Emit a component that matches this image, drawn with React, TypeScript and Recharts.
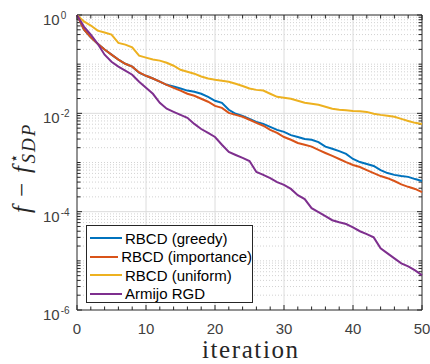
import { LineChart, Line, XAxis, YAxis, ReferenceLine, Legend } from 'recharts';

// iteration index 0..50
const iterations = Array.from({ length: 51 }, (_, i) => i);

const rbcdGreedy = [
  1, 0.51, 0.35, 0.26, 0.198, 0.156, 0.124, 0.102, 0.089, 0.067,
  0.058, 0.051, 0.044, 0.038, 0.035, 0.032, 0.029, 0.0275, 0.025, 0.0217,
  0.018, 0.0164, 0.0118, 0.0098, 0.0089, 0.0077, 0.0067, 0.0061, 0.0053, 0.0046,
  0.0042, 0.0036, 0.0033, 0.003, 0.0029, 0.0026, 0.0021, 0.0019, 0.0017, 0.0015,
  0.00118, 0.00102, 0.00093, 0.00085, 0.0007, 0.00061, 0.00056, 0.00053, 0.00051, 0.00046,
  0.00042,
];

const rbcdImportance = [
  1, 0.51, 0.35, 0.26, 0.198, 0.156, 0.124, 0.102, 0.089, 0.068,
  0.058, 0.051, 0.044, 0.038, 0.033, 0.029, 0.025, 0.0228, 0.0198, 0.0172,
  0.0142, 0.0129, 0.0102, 0.0093, 0.0085, 0.0074, 0.0064, 0.0056, 0.0046, 0.004,
  0.0033, 0.0029, 0.0025, 0.0023, 0.0021, 0.0018, 0.00156, 0.00136, 0.00118, 0.00102,
  0.00089, 0.00081, 0.0007, 0.00061, 0.00053, 0.00048, 0.00042, 0.00036, 0.00032, 0.00029,
  0.00025,
];

const rbcdUniform = [
  1, 0.74, 0.61, 0.48, 0.44, 0.4, 0.27, 0.25, 0.22, 0.149,
  0.136, 0.124, 0.118, 0.107, 0.093, 0.077, 0.07, 0.064, 0.056, 0.051,
  0.048, 0.046, 0.044, 0.04, 0.036, 0.032, 0.03, 0.029, 0.025, 0.0217,
  0.0207, 0.0198, 0.018, 0.0164, 0.0156, 0.0149, 0.0136, 0.0124, 0.0118, 0.0115,
  0.0112, 0.011, 0.0107, 0.0098, 0.0093, 0.0089, 0.0085, 0.0077, 0.007, 0.0064,
  0.0061,
];

const armijoRgd = [
  1, 0.58, 0.4, 0.26, 0.156, 0.112, 0.089, 0.074, 0.061, 0.044,
  0.033, 0.025, 0.0164, 0.0124, 0.0107, 0.0093, 0.0081, 0.0061, 0.0048, 0.004,
  0.0033, 0.0023, 0.00164, 0.00142, 0.00124, 0.00107, 0.00064, 0.00056, 0.00048, 0.0004,
  0.00035, 0.00029, 0.000217, 0.00018, 0.000118, 0.000098, 0.000081, 0.000067, 0.000061, 0.000056,
  0.000048, 0.00004, 0.000035, 0.00003, 0.000018, 0.0000142, 0.0000112, 0.0000089, 0.0000077, 0.0000064,
  0.0000051,
];

const seriesNames = ['RBCD (greedy)', 'RBCD (importance)', 'RBCD (uniform)', 'Armijo RGD'];
const seriesKeys = ['greedy', 'importance', 'uniform', 'armijo'];
const seriesColors = ['#0072BD', '#D95319', '#EDB120', '#7E2F8E'];

const xTicks = [0, 10, 20, 30, 40, 50];
const yTicks = [1, 1e-2, 1e-4, 1e-6];

const data = iterations.map((it, i) => ({
  iteration: it,
  greedy: rbcdGreedy[i],
  importance: rbcdImportance[i],
  uniform: rbcdUniform[i],
  armijo: armijoRgd[i],
}));

// log-scale minor grid: 2..9 x 10^k plus the odd decades
const minorY: number[] = [];
for (let k = -6; k < 0; k++) {
  for (let m = 2; m <= 9; m++) minorY.push(m * Math.pow(10, k));
}
const oddDecades = [1e-1, 1e-3, 1e-5];

const axisColor = '#262626';
const labelColor = '#404040';
const W = 430;
const H = 364;
const M = { top: 15, right: 8, left: 17, bottom: 0 };
const pxX = 50 / (W - M.left - 60 - M.right); // data units per pixel along x
const pxDec = 6 / (H - M.top - 54); // decades per pixel along y

const XTick = (props: any) => {
  const { x, payload } = props;
  return (
    <text x={x} y={333.5} textAnchor="middle" fontFamily="Liberation Sans, Arial" fontSize={15} fill={labelColor}>
      {payload.value}
    </text>
  );
};

const YTick = (props: any) => {
  const { y, payload } = props;
  const exp = Math.round(Math.log10(payload.value));
  return (
    <text x={43} y={y + 10} fontFamily="Liberation Sans, Arial" fontSize={15} fill={labelColor}>
      <tspan>10</tspan>
      <tspan fontSize={10} dx={1} dy={-6}>{exp === 0 ? '0' : `-${-exp}`}</tspan>
    </text>
  );
};

const YLabel = () => (
  <text
    transform="translate(30,213) rotate(-90)"
    fontFamily="Liberation Serif, serif"
    fontSize={25}
    fill={axisColor}
  >
    <tspan fontStyle="italic">f</tspan>
    <tspan dx={9}>−</tspan>
    <tspan dx={10} fontStyle="italic">f</tspan>
    <tspan dx={3} dy={-11} fontSize={15} fontFamily="DejaVu Sans">⋆</tspan>
    <tspan dx={-10} dy={16} fontSize={19} fontStyle="italic" letterSpacing={2}>SDP</tspan>
  </text>
);

const XLabel = () => (
  <text
    x={250}
    y={358}
    textAnchor="middle"
    fontFamily="Liberation Serif, serif"
    fontSize={25}
    textLength={96}
    lengthAdjust="spacing"
    fill={axisColor}
  >
    iteration
  </text>
);

const renderLegend = () => (
  <div
    style={{
      boxSizing: 'border-box',
      width: 167,
      height: 78,
      background: '#fff',
      border: `1px solid ${axisColor}`,
      padding: '3px 0 0 3px',
      fontFamily: 'Liberation Sans, Arial',
      fontSize: 15,
      color: '#000',
      whiteSpace: 'nowrap',
    }}
  >
    {seriesNames.map((name, i) => (
      <div key={name} style={{ display: 'flex', alignItems: 'center', height: 18.5 }}>
        <span style={{ display: 'inline-block', width: 32, height: 2, background: seriesColors[i], marginRight: 3 }} />
        <span>{name}</span>
      </div>
    ))}
  </div>
);

// inward tick marks on all four sides of the box
const xMinorTicks = Array.from({ length: 26 }, (_, i) => i * 2);
const yTickMarks = [...minorY, ...oddDecades, ...yTicks];

const App = () => {
  const tickLenX = (v: number) => v * pxX;
  const upFromBottom = (px: number) => 1e-6 * Math.pow(10, px * pxDec);
  const downFromTop = (px: number) => Math.pow(10, -px * pxDec);

  return (
    <div style={{ position: 'absolute', left: 0, top: 0, width: W, height: H, background: '#fff' }}>
      <LineChart width={W} height={H} data={data} margin={M}>
        <XAxis
          dataKey="iteration"
          type="number"
          domain={[0, 50]}
          ticks={xTicks}
          height={54}
          tick={<XTick />}
          tickLine={false}
          axisLine={{ stroke: axisColor }}
          label={<XLabel />}
        />
        <YAxis
          scale="log"
          type="number"
          domain={[1e-6, 1]}
          allowDataOverflow
          ticks={yTicks}
          width={60}
          tick={<YTick />}
          tickLine={false}
          axisLine={{ stroke: axisColor }}
          label={<YLabel />}
        />
        {/* dotted minor grid */}
        {[...minorY, ...oddDecades].map((v) => (
          <ReferenceLine key={`g${v}`} y={v} stroke="#d2d2d2" strokeDasharray="1 2" />
        ))}
        {/* solid major grid */}
        {[1e-2, 1e-4].map((v) => (
          <ReferenceLine key={`G${v}`} y={v} stroke="#dcdcdc" />
        ))}
        {[10, 20, 30, 40].map((v) => (
          <ReferenceLine key={`V${v}`} x={v} stroke="#dcdcdc" />
        ))}
        <ReferenceLine y={1} stroke={axisColor} />
        <ReferenceLine x={50} stroke={axisColor} />
        {xMinorTicks.map((t) => {
          const len = t % 10 === 0 ? 5 : 3.5;
          return [
            <ReferenceLine
              key={`xb${t}`}
              segment={[{ x: t, y: 1e-6 }, { x: t, y: upFromBottom(len) }]}
              stroke={axisColor}
            />,
            <ReferenceLine
              key={`xt${t}`}
              segment={[{ x: t, y: 1 }, { x: t, y: downFromTop(len) }]}
              stroke={axisColor}
            />,
          ];
        })}
        {yTickMarks.map((v) => {
          const len = yTicks.includes(v) ? 5 : 3.5;
          return [
            <ReferenceLine
              key={`yl${v}`}
              segment={[{ x: 0, y: v }, { x: tickLenX(len), y: v }]}
              stroke={axisColor}
            />,
            <ReferenceLine
              key={`yr${v}`}
              segment={[{ x: 50, y: v }, { x: 50 - tickLenX(len), y: v }]}
              stroke={axisColor}
            />,
          ];
        })}
        {seriesKeys.map((k, i) => (
          <Line
            key={k}
            dataKey={k}
            name={seriesNames[i]}
            stroke={seriesColors[i]}
            strokeWidth={2}
            dot={false}
            isAnimationActive={false}
          />
        ))}
        <Legend
          layout="vertical"
          align="center"
          verticalAlign="middle"
          content={renderLegend}
          wrapperStyle={{ position: 'absolute', left: 86, top: 225, width: 167, height: 78 }}
        />
      </LineChart>
    </div>
  );
};

export default App;
